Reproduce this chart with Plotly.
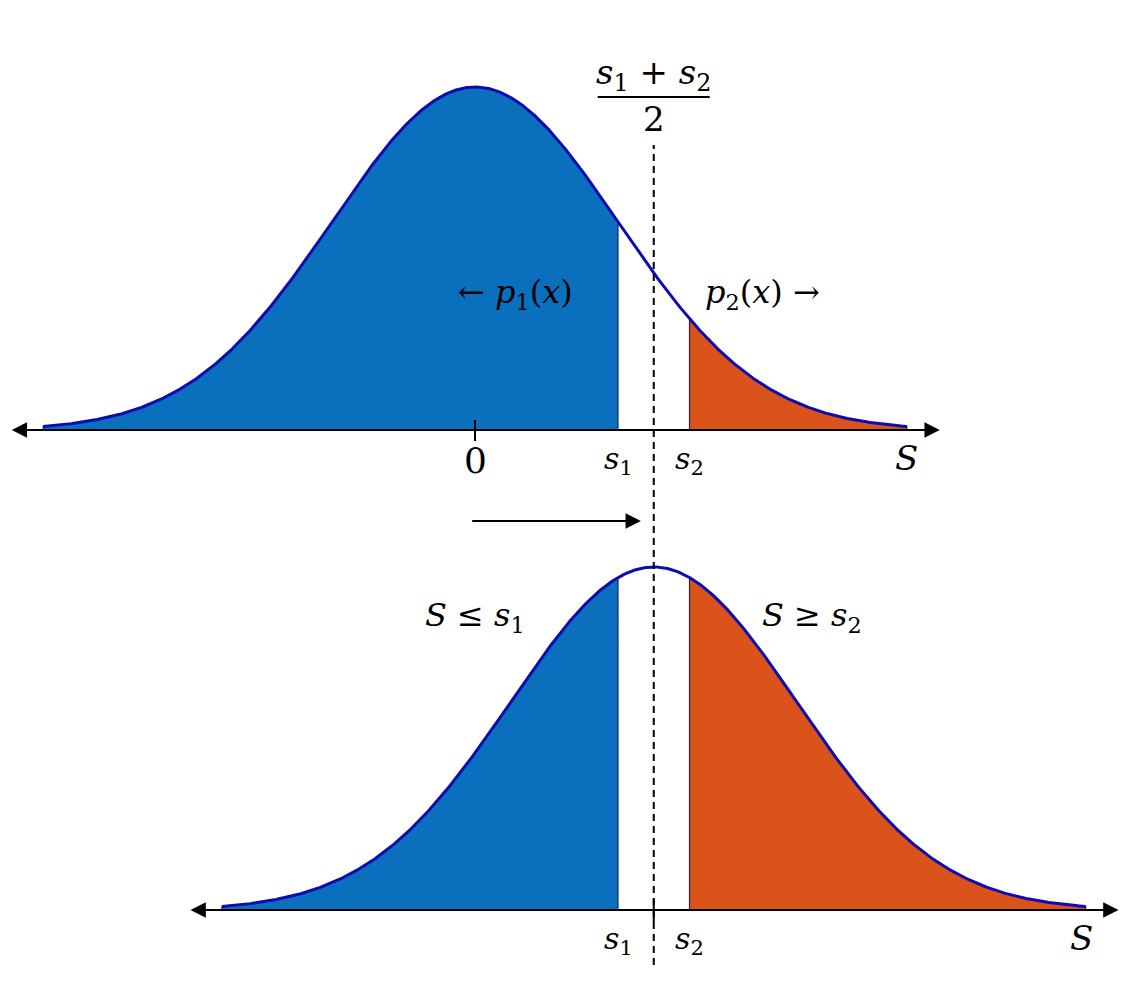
import numpy as np
import plotly.graph_objects as go

# ---- data (in units of sigma) ----
sigma = 1.0
s1 = 1.0
s2 = 1.5
mean_top = 0.0
mean_bottom = (s1 + s2) / 2
tail = 3.02          # curve drawn to +/- tail*sigma
axis_ext = 3.25      # axis arrows reach +/- axis_ext*sigma
panel_means = [mean_top, mean_bottom]
panel_axes = ["y", "y2"]
region_colors = ["#0A70BD", "#D9531A"]
curve_color = "#0C0CB0"

W, H = 1144, 989
OFF = 8  # page body margin
X0_PX, SIG_PX, AMP_PX = 475, 143, 343
BASE_TOP, BASE_BOT = 430, 910
def ux(px):
    return (px - X0_PX) / SIG_PX
def yt(py):
    return (BASE_TOP - py) / AMP_PX
def yb(py):
    return (BASE_BOT - py) / AMP_PX

def gauss(x, m):
    return np.exp(-0.5 * ((x - m) / sigma) ** 2)

fig = go.Figure()

for m, yax in zip(panel_means, panel_axes):
    lo, hi = m - tail * sigma, m + tail * sigma
    xb = np.linspace(lo, s1, 300)
    fig.add_trace(go.Scatter(
        x=np.concatenate([xb, [s1, lo, lo]]),
        y=np.concatenate([gauss(xb, m), [0, 0, gauss(lo, m)]]),
        fill="toself", fillcolor=region_colors[0], mode="lines",
        line=dict(color="#1A2850", width=1.2), yaxis=yax, hoverinfo="skip"))
    xo = np.linspace(s2, hi, 300)
    fig.add_trace(go.Scatter(
        x=np.concatenate([xo, [hi, s2, s2]]),
        y=np.concatenate([gauss(xo, m), [0, 0, gauss(s2, m)]]),
        fill="toself", fillcolor=region_colors[1], mode="lines",
        line=dict(color="#3A2030", width=1.2), yaxis=yax, hoverinfo="skip"))
    xc = np.linspace(lo, hi, 800)
    fig.add_trace(go.Scatter(
        x=xc, y=gauss(xc, m), mode="lines",
        line=dict(color=curve_color, width=3), yaxis=yax, hoverinfo="skip"))

shapes = []
annotations = []

for m, yax in zip(panel_means, panel_axes):
    annotations.append(dict(
        x=m + axis_ext, y=0, ax=m - axis_ext, ay=0,
        xref="x", yref=yax, axref="x", ayref=yax,
        text="", showarrow=True, arrowside="end+start",
        arrowhead=2, arrowsize=1.7, arrowwidth=1.8, arrowcolor="black"))

shapes.append(dict(type="line", xref="x", yref="y", x0=mean_top, x1=mean_top,
                   y0=yt(420), y1=yt(441), line=dict(color="black", width=2)))
shapes.append(dict(type="line", xref="x", yref="y2", x0=mean_bottom, x1=mean_bottom,
                   y0=yb(899), y1=yb(922), line=dict(color="black", width=2)))

shapes.append(dict(type="line", xref="x", yref="paper", x0=mean_bottom, x1=mean_bottom,
                   y0=1 - (965 - OFF) / H, y1=1 - (145 - OFF) / H,
                   line=dict(color="black", width=2, dash="7px,5px")))

half_bar = 56 / SIG_PX
shapes.append(dict(type="line", xref="x", yref="y", x0=mean_bottom - half_bar,
                   x1=mean_bottom + half_bar, y0=yt(97), y1=yt(97),
                   line=dict(color="black", width=2)))

annotations.append(dict(
    x=mean_bottom - 0.09, y=yb(521), ax=mean_top - 0.03, ay=yb(521),
    xref="x", yref="y2", axref="x", ayref="y2",
    text="", showarrow=True, arrowhead=2, arrowsize=1.7, arrowwidth=1.8,
    arrowcolor="black"))

FONT = "DejaVu Serif"

def label(text, x, y, yref, size):
    annotations.append(dict(text=text, x=x, y=y, xref="x", yref=yref,
                            showarrow=False, xanchor="center", yanchor="middle",
                            font=dict(family=FONT, size=size, color="black")))

label("<i>s</i><sub>1</sub> + <i>s</i><sub>2</sub>", mean_bottom, yt(74), "y", 34)
label("2", mean_bottom, yt(119), "y", 34)
label("← <i>p</i><sub>1</sub>(<i>x</i>)", ux(515), yt(294), "y", 32)
label("<i>p</i><sub>2</sub>(<i>x</i>) →", ux(762), yt(294), "y", 32)

top_tick_labels = ["0", "<i>s</i><sub>1</sub>", "<i>s</i><sub>2</sub>"]
top_tick_pos = [mean_top, s1, s2]
top_tick_sizes = [36, 30, 30]
for t, xv, sz in zip(top_tick_labels, top_tick_pos, top_tick_sizes):
    label(t, xv, yt(460), "y", sz)
label("<i>S</i>", mean_top + tail * sigma, yt(458), "y", 34)

label("<i>S</i> ≤ <i>s</i><sub>1</sub>", ux(475), yb(617), "y2", 32)
label("<i>S</i> ≥ <i>s</i><sub>2</sub>", ux(812), yb(617), "y2", 32)

bot_tick_labels = ["<i>s</i><sub>1</sub>", "<i>s</i><sub>2</sub>"]
bot_tick_pos = [s1, s2]
for t, xv in zip(bot_tick_labels, bot_tick_pos):
    label(t, xv, yb(940), "y2", 30)
label("<i>S</i>", mean_bottom + tail * sigma - 0.03, yb(938), "y2", 34)

fig.update_layout(
    width=W, height=H, margin=dict(l=0, r=0, t=0, b=0),
    paper_bgcolor="white", plot_bgcolor="white", showlegend=False,
    xaxis=dict(range=[ux(OFF), ux(W + OFF)], visible=False, fixedrange=True),
    yaxis=dict(range=[yt(H + OFF), yt(OFF)], visible=False, fixedrange=True),
    yaxis2=dict(range=[yb(H + OFF), yb(OFF)], visible=False, overlaying="y", fixedrange=True),
    shapes=shapes, annotations=annotations,
)

fig.write_html("out.html")
